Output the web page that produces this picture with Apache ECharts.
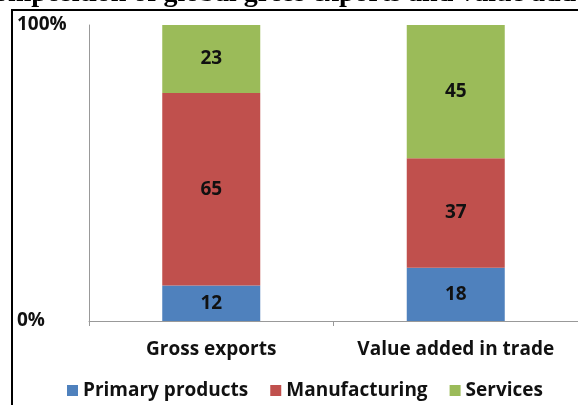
<!DOCTYPE html>
<html lang="en">
<head>
    <meta charset="UTF-8">
    <title>Gross exports vs value added</title>
    <style>
        html, body { margin: 0; padding: 0; background: #fff; }
    </style>
</head>
<body>
    <div id="main" style="width:578px; height:405px;"></div>
    <script src="https://cdn.jsdelivr.net/npm/echarts@6/dist/echarts.min.js"></script>
    <script>
        // categories and shares (%)
        var categories = ['Gross exports', 'Value added in trade'];
        var primaryProducts = [12, 18];
        var manufacturing = [65, 37];
        var services = [23, 45];
        var yTicks = ['0%', '100%'];

        var font = 'Open Sans';

        var makeSeries = function (name, data, color) {
            return {
                name: name,
                type: 'bar',
                stack: 'total',
                barWidth: 98,
                data: data,
                itemStyle: { color: color },
                label: {
                    show: true,
                    position: 'inside',
                    color: '#111',
                    fontFamily: font,
                    fontWeight: 'bold',
                    fontSize: 19
                }
            };
        };

        var myChart = echarts.init(document.getElementById('main'));
        myChart.setOption({
            animation: false,
            // title is cut off at the top edge in the original picture
            title: {
                text: 'Composition of global gross exports and value added',
                left: 'center',
                top: -25,
                textStyle: {
                    fontFamily: 'Liberation Serif',
                    fontWeight: 'bold',
                    fontSize: 28,
                    color: '#000'
                }
            },
            graphic: [{
                type: 'rect',
                shape: { x: 12, y: 10, width: 620, height: 420 },
                style: { fill: 'none', stroke: '#000', lineWidth: 2 },
                z: 100
            }],
            legend: {
                bottom: 0,
                left: 62,
                itemWidth: 11,
                itemHeight: 11,
                itemGap: 22,
                icon: 'rect',
                textStyle: {
                    fontFamily: font,
                    fontWeight: 'bold',
                    fontSize: 19,
                    color: '#111'
                }
            },
            grid: { left: 89, right: -5, top: 25, bottom: 84 },
            xAxis: {
                type: 'category',
                data: categories,
                axisLine: { lineStyle: { color: '#999' } },
                axisTick: { show: true, alignWithLabel: false, length: 5, lineStyle: { color: '#999' } },
                axisLabel: {
                    interval: 0,
                    margin: 19,
                    fontFamily: font,
                    fontWeight: 'bold',
                    fontSize: 19,
                    color: '#111'
                }
            },
            yAxis: {
                type: 'value',
                min: 0,
                max: 100,
                interval: 100,
                splitLine: { show: false },
                axisLine: { show: true, lineStyle: { color: '#999' } },
                axisTick: { show: false },
                axisLabel: {
                    align: 'left',
                    margin: 72,
                    fontFamily: font,
                    fontWeight: 'bold',
                    fontSize: 19,
                    color: '#111',
                    formatter: function (v) { return v === 0 ? yTicks[0] : yTicks[1]; }
                }
            },
            series: [
                makeSeries('Primary products', primaryProducts, '#4F81BD'),
                makeSeries('Manufacturing', manufacturing, '#C0504D'),
                makeSeries('Services', services, '#9BBB59')
            ]
        });
    </script>
</body>
</html>
